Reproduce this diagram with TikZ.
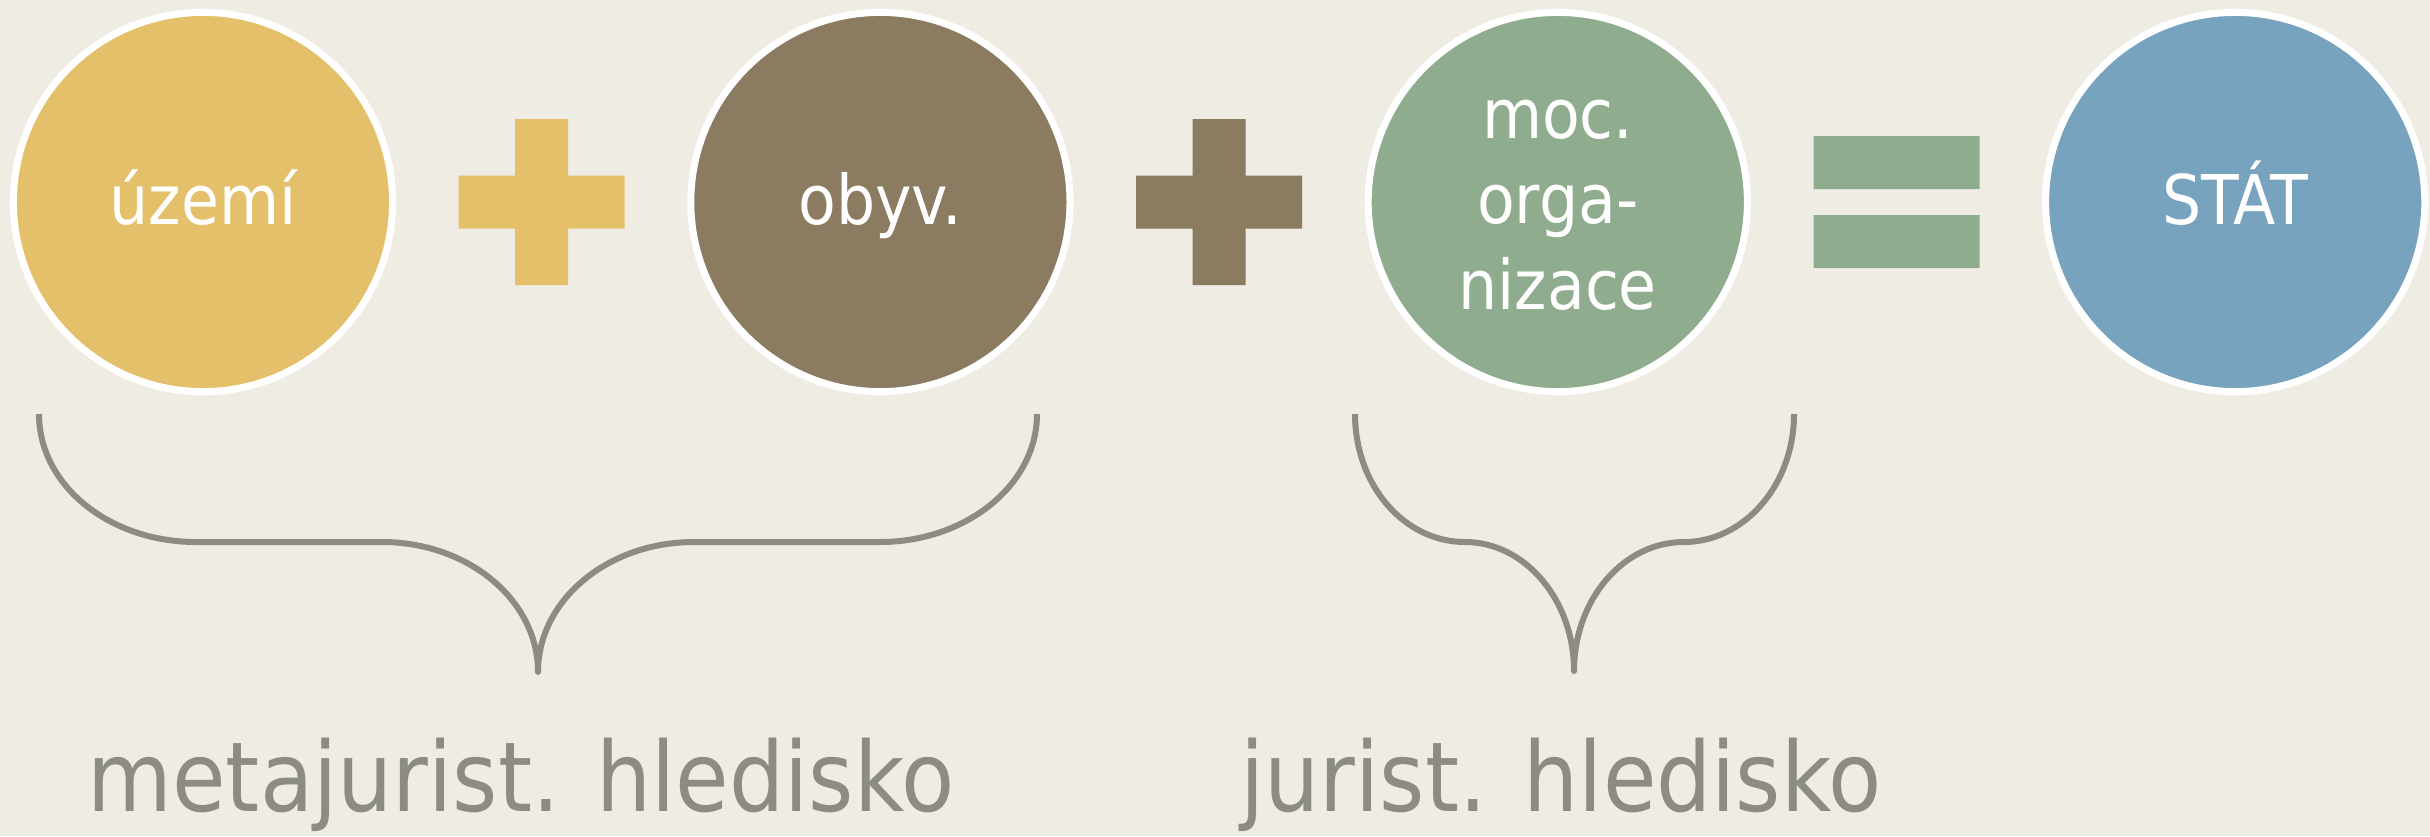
\documentclass[tikz,border=0pt]{standalone}
\usepackage{fontspec}
\setmainfont{DejaVu Sans Condensed}
\usepackage{tikz}
\usetikzlibrary{calc, positioning}
\definecolor{pozadi}{HTML}{EFECE4}
\definecolor{zluta}{HTML}{E5C06A}
\definecolor{hneda}{HTML}{8B7B60}
\definecolor{zelena}{HTML}{8FAC8E}
\definecolor{modra}{HTML}{77A3BE}
\definecolor{seda}{HTML}{8C8C84}
\tikzset{
kruh/.style={
  circle,
  draw=white,
  line width=0.07cm,
  minimum size=3.79cm,
  inner sep=0pt,
  align=center,
  text=white,
  text height=0.5cm,
  text depth=0.06cm,
  font=\fontsize{19.5pt}{24.2pt}\selectfont
},
zavorka/.style={draw=seda, line width=0.06cm, line join=round},
hledisko/.style={text=seda, anchor=base, inner sep=0pt, font=\fontsize{27.5pt}{34pt}\selectfont},
}

\begin{document}
\begin{tikzpicture}[x=0.01cm, y=-0.01cm]
                \useasboundingbox (0,0) rectangle (2430,836);
                \fill[pozadi] (0,0) rectangle (2430,836);
                \node[kruh, fill=zluta] (uzemi) at (203,202) {území};
                \node[kruh, fill=hneda, right=2.91cm of uzemi] (obyv) {obyv.};
                \node[kruh, fill=zelena, right=2.91cm of obyv, text height=2.2cm] (moc) {moc.\\orga-\\nizace};
                \node[kruh, fill=modra, right=2.91cm of moc] (stat) {STÁT};
                \coordinate (plusA) at ($(uzemi)!0.5!(obyv)$);
                \coordinate (plusB) at ($(obyv)!0.5!(moc)$);
                \coordinate (rovno) at ($(moc)!0.5!(stat)$);
                \fill[zluta] ($(plusA)+(-83,-26.5)$) rectangle ($(plusA)+(83,26.5)$)
                             ($(plusA)+(-26.5,-83)$) rectangle ($(plusA)+(26.5,83)$);
                \fill[hneda] ($(plusB)+(-83,-26.5)$) rectangle ($(plusB)+(83,26.5)$)
                             ($(plusB)+(-26.5,-83)$) rectangle ($(plusB)+(26.5,83)$);
                \fill[zelena] ($(rovno)+(-83,-66)$) rectangle ($(rovno)+(83,-13)$)
                              ($(rovno)+(-83,13)$) rectangle ($(rovno)+(83,66)$);
                \coordinate (hrotA) at (538,672);
                \coordinate (hrotB) at (1574,671);
                \draw[zavorka] (39,414) .. controls (39,485) and (109,542) .. (196,542) -- (382,542)
                    .. controls (468,542) and (538,600) .. (hrotA)
                    .. controls (538,600) and (608,542) .. (694,542) -- (880,542)
                    .. controls (966,542) and (1037,485) .. (1037,414);
                \draw[zavorka] (1355,414) .. controls (1355,485) and (1404,542) .. (1465,542)
                    .. controls (1525,542) and (1574,600) .. (hrotB)
                    .. controls (1574,600) and (1623,542) .. (1684,542)
                    .. controls (1744,542) and (1794,485) .. (1794,414);
                \node[hledisko] (meta) at (521,811) {metajurist. hledisko};
                \node[hledisko] (jur) at (1561,811) {jurist. hledisko};
            \end{tikzpicture}
\end{document}
